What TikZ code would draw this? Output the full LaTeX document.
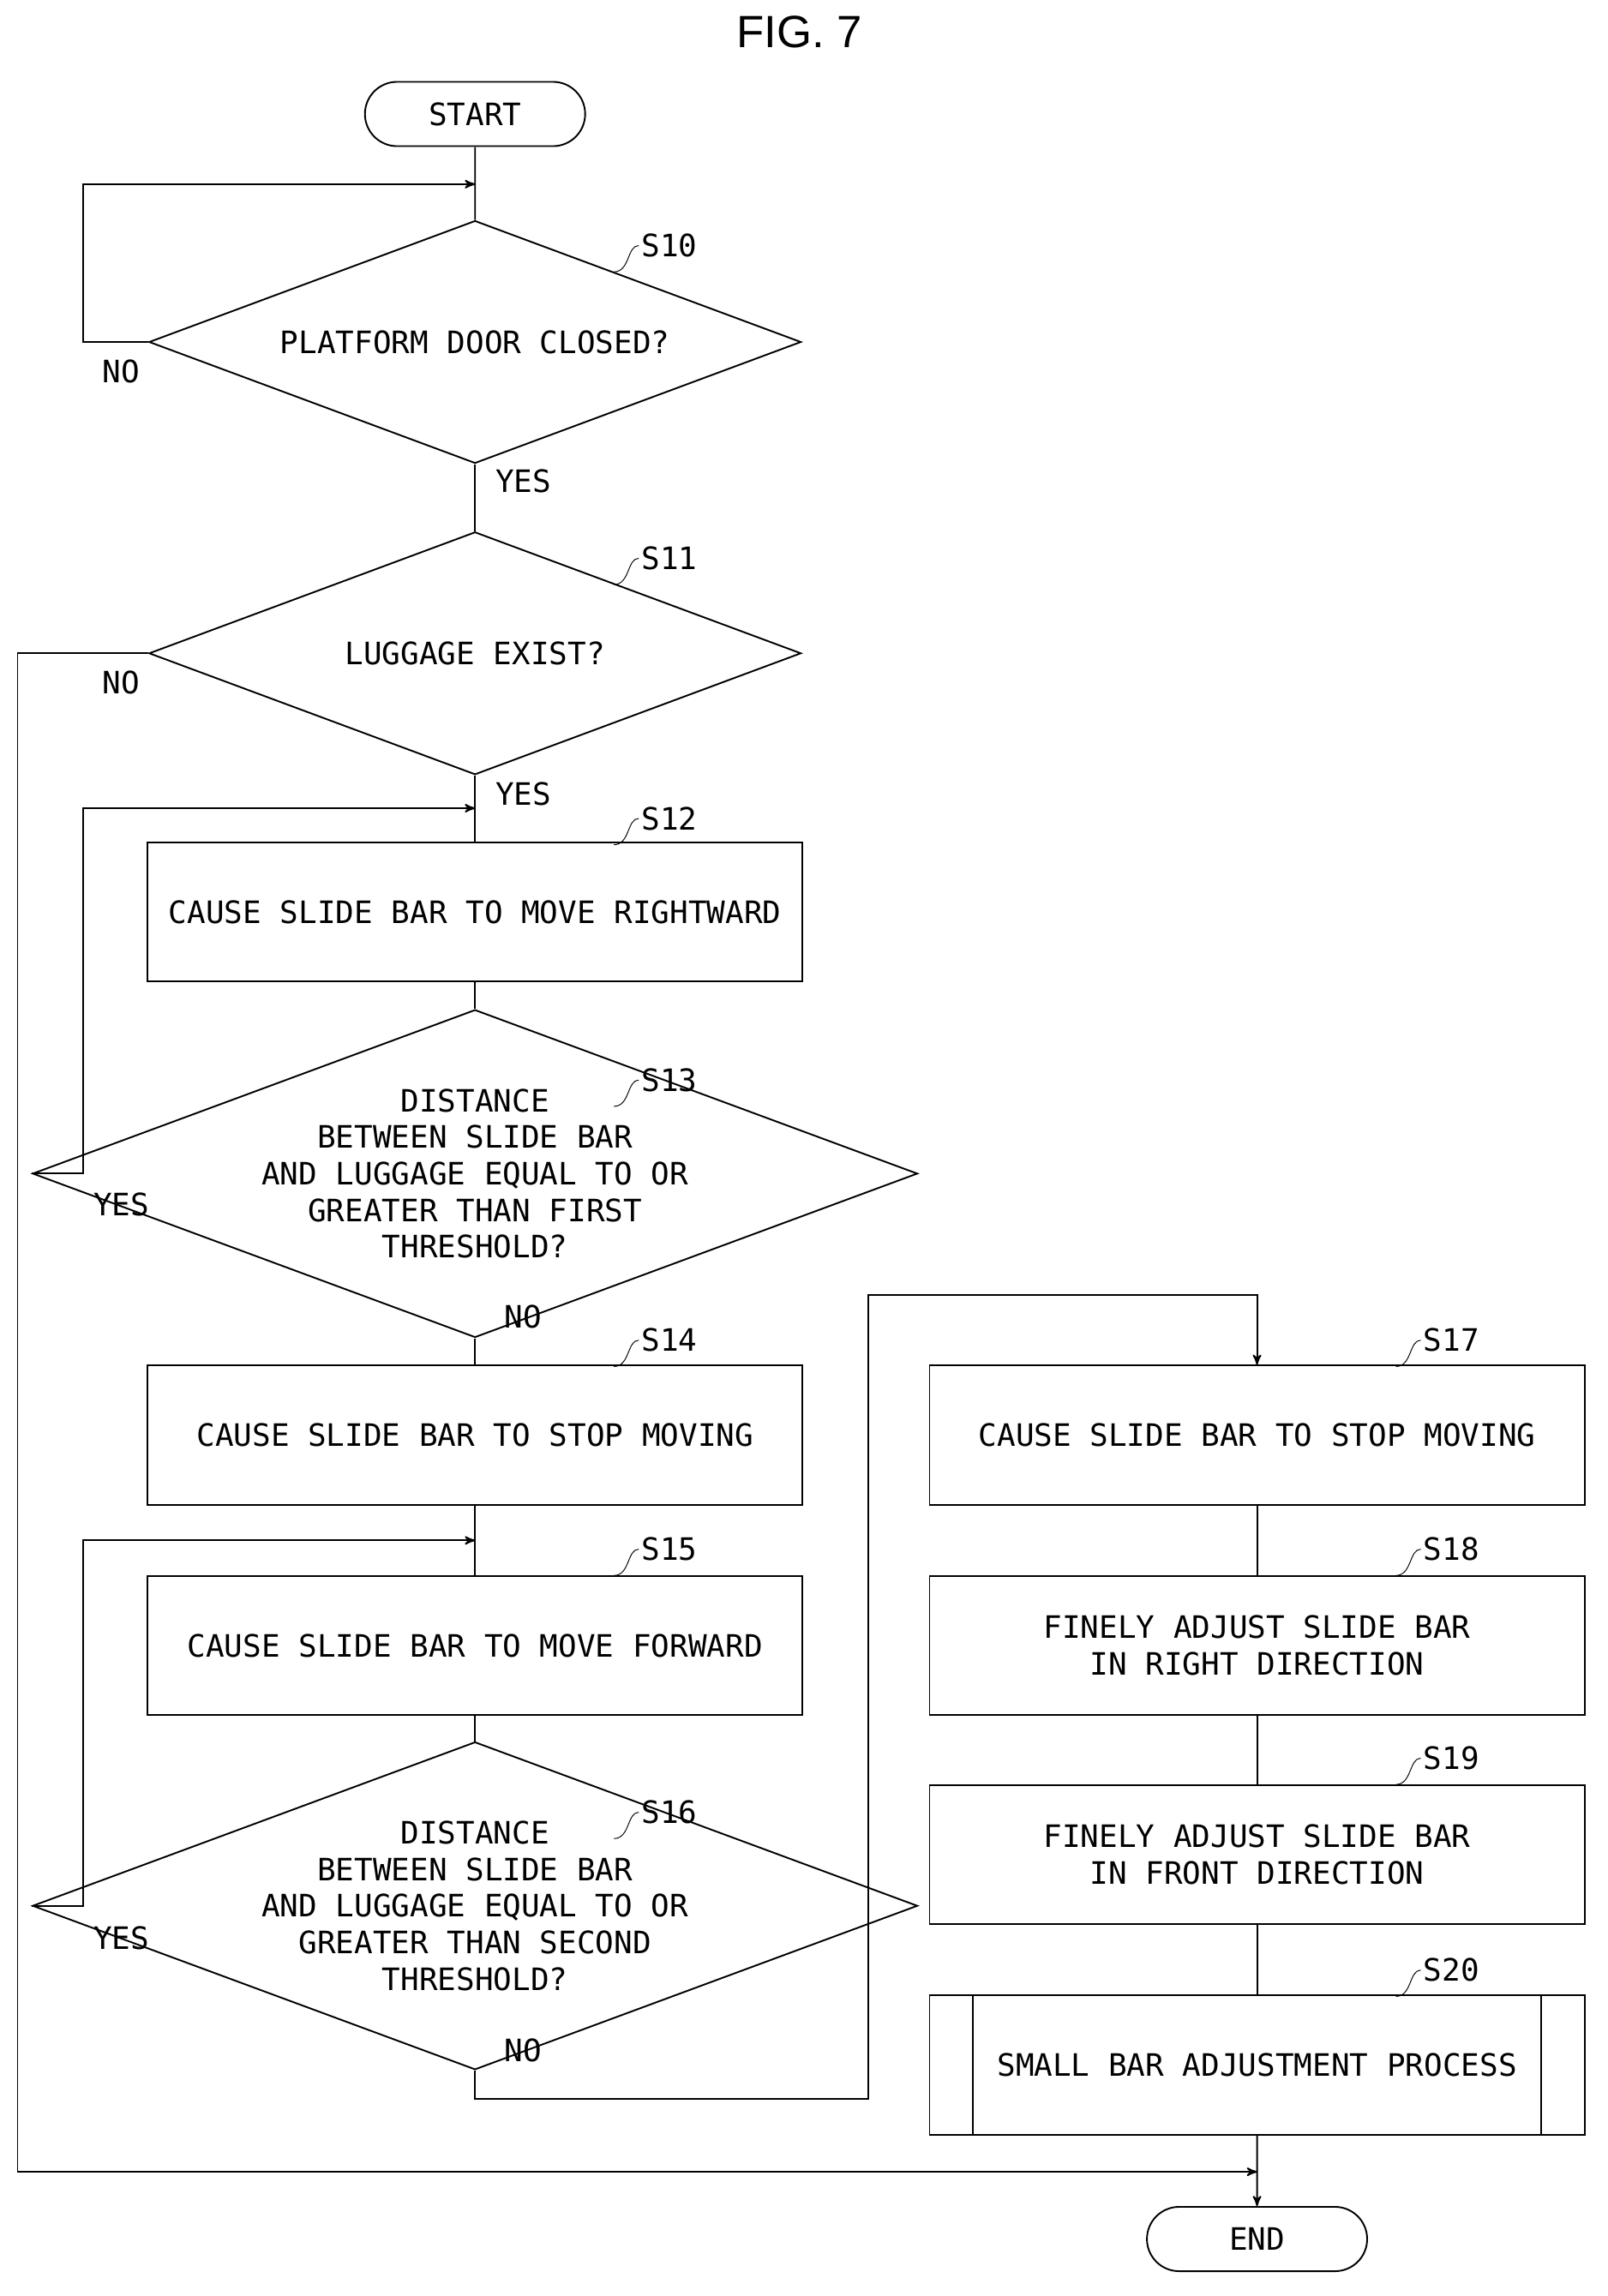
\documentclass[tikz,border=0pt]{standalone}
\usepackage{fontspec}
\setmainfont{DejaVu Sans Mono}
\newfontfamily\titlefont{Liberation Sans}
\usetikzlibrary{shapes.geometric,shapes.misc,arrows}
\tikzset{
  box/.style={draw,thick,minimum width=11.2cm,minimum height=2.38cm,align=center},
  dec/.style={draw,thick,diamond,aspect=2.7,inner sep=0pt,minimum width=11.15cm,minimum height=4.15cm,align=center},
  term/.style={draw,thick,rounded rectangle,minimum width=4cm,minimum height=1.1cm},
  lbl/.style={font=\fontsize{15}{18}\selectfont},
}
\newcommand{\steplabel}[3]{%
  \draw[thin] (#2-17,#3+18) .. controls (#2-6,#3+18) and (#2-8,#3) .. (#2,#3);
  \node[lbl,anchor=west,inner sep=1pt] at (#2,#3) {#1};}
\begin{document}
\begin{tikzpicture}[x=0.025cm,y=-0.025cm,>=stealth',thick,
  every node/.append style={font=\fontsize{15}{17.8}\selectfont}]
\useasboundingbox (0,0) rectangle (1100,1571);
\node[font=\titlefont\fontsize{22}{24}\selectfont] (title) at (547,22) {FIG. 7};
\node[term] (start) at (325,78) {START};
\node[dec] (s10) at (325,234) {PLATFORM DOOR CLOSED?};
\node[dec] (s11) at (325,447) {LUGGAGE EXIST?};
\node[box] (s12) at (325,624) {CAUSE SLIDE BAR TO MOVE RIGHTWARD};
\node[dec] (s13) at (325,803) {DISTANCE\\BETWEEN SLIDE BAR\\AND LUGGAGE EQUAL TO OR\\GREATER THAN FIRST\\THRESHOLD?};
\node[box] (s14) at (325,982) {CAUSE SLIDE BAR TO STOP MOVING};
\node[box] (s15) at (325,1126) {CAUSE SLIDE BAR TO MOVE FORWARD};
\node[dec] (s16) at (325,1304) {DISTANCE\\BETWEEN SLIDE BAR\\AND LUGGAGE EQUAL TO OR\\GREATER THAN SECOND\\THRESHOLD?};
\node[box] (s17) at (860,982) {CAUSE SLIDE BAR TO STOP MOVING};
\node[box] (s18) at (860,1126) {FINELY ADJUST SLIDE BAR\\IN RIGHT DIRECTION};
\node[box] (s19) at (860,1269) {FINELY ADJUST SLIDE BAR\\IN FRONT DIRECTION};
\node[box] (s20) at (860,1413) {SMALL BAR ADJUSTMENT PROCESS};
\draw ([xshift=0.75cm]s20.north west) -- ([xshift=0.75cm]s20.south west);
\draw ([xshift=-0.75cm]s20.north east) -- ([xshift=-0.75cm]s20.south east);
\node[term] (end) at (860,1532) {END};
\coordinate (m10) at (325,126);
\coordinate (m12) at (325,553);
\coordinate (m15) at (325,1054);
\coordinate (m20) at (860,1486);
% main line
\draw (start) -- (s10);
\draw (s10) -- (s11);
\draw (s11) -- (s12);
\draw (s12) -- (s13);
\draw (s13) -- (s14);
\draw (s14) -- (s15);
\draw (s15) -- (s16);
\draw (s17) -- (s18);
\draw (s18) -- (s19);
\draw (s19) -- (s20);
\draw[->] (s20) -- (end);
% loops
\draw[->] (s10.west) -- (57,234) -- (57,126) -- (m10);
\draw[->] (s11.west) -- (12,447) -- (12,1486) -- (m20);
\draw[->] (s13.west) -- (57,803) -- (57,553) -- (m12);
\draw[->] (s16.west) -- (57,1304) -- (57,1054) -- (m15);
\draw[->] (s16.south) -- (325,1436) -- (594,1436) -- (594,886) -- (860,886) -- (s17.north);
% yes / no
\node[lbl] (n10) at (83,254) {NO};
\node[lbl] (y10) at (358,329) {YES};
\node[lbl] (n11) at (83,467) {NO};
\node[lbl] (y11) at (358,543) {YES};
\node[lbl] (y13) at (83,824) {YES};
\node[lbl] (n13) at (358,901) {NO};
\node[lbl] (y16) at (83,1326) {YES};
\node[lbl] (n16) at (358,1403) {NO};
% step labels
\steplabel{S10}{437}{168}
\steplabel{S11}{437}{382}
\steplabel{S12}{437}{560}
\steplabel{S13}{437}{739}
\steplabel{S14}{437}{917}
\steplabel{S15}{437}{1060}
\steplabel{S16}{437}{1240}
\steplabel{S17}{972}{917}
\steplabel{S18}{972}{1060}
\steplabel{S19}{972}{1203}
\steplabel{S20}{972}{1348}
\end{tikzpicture}
\end{document}
